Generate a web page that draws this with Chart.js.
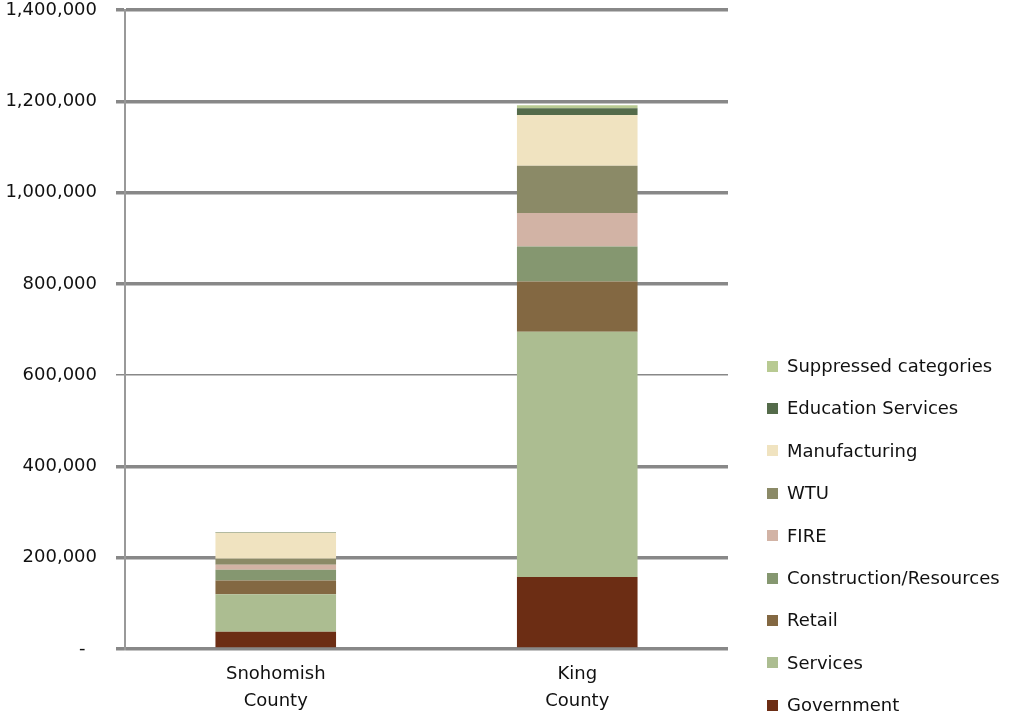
<!DOCTYPE html>
<html>
<head>
<meta charset="utf-8">
<script src="https://cdn.jsdelivr.net/npm/chart.js@4.4.1/dist/chart.umd.min.js"></script>
<style>
    html, body { margin: 0; padding: 0; background: #fff; }
    #wrap { position: relative; width: 1013px; height: 717px; }
    #legend { position: absolute; left: 0; top: 0; font: 18px "DejaVu Sans", sans-serif; color: #111; }
    #legend .box { position: absolute; width: 11px; height: 11px; }
    #legend .txt { position: absolute; white-space: nowrap; line-height: 20px; }
</style>
</head>
<body>
<div id="wrap">
    <canvas id="jobsChart" width="1013" height="717"></canvas>
    <div id="legend"></div>
</div>
<script>
// employment by sector, two counties
const counties = [['Snohomish', 'County'], ['King', 'County']];

const government    = [38000, 158000];
const services      = [82000, 537000];
const retail        = [30000, 110000];
const construction  = [23500, 77000];
const fire          = [11000, 73000];
const wtu           = [13000, 104000];
const manufacturing = [57000, 111000];
const education     = [1200, 15000];
const suppressed    = [600, 6500];

const yTicks = [0, 200000, 400000, 600000, 800000, 1000000, 1200000, 1400000];

const series = [
    { label: 'Government', data: government, color: '#6c2d14' },
    { label: 'Services', data: services, color: '#acbd91' },
    { label: 'Retail', data: retail, color: '#836842' },
    { label: 'Construction/Resources', data: construction, color: '#859770' },
    { label: 'FIRE', data: fire, color: '#d2b3a5' },
    { label: 'WTU', data: wtu, color: '#8b8a67' },
    { label: 'Manufacturing', data: manufacturing, color: '#f0e3c0' },
    { label: 'Education Services', data: education, color: '#546b4a' },
    { label: 'Suppressed categories', data: suppressed, color: '#b8ca92' }
];

const font = { family: '"DejaVu Sans", sans-serif', size: 18 };

const config = {
    type: 'bar',
    data: {
        labels: counties,
        datasets: series.map(s => ({
            label: s.label,
            data: s.data,
            backgroundColor: s.color,
            borderWidth: 0,
            barPercentage: 0.4,
            categoryPercentage: 1.0
        }))
    },
    options: {
        responsive: false,
        animation: false,
        layout: { padding: { top: 10, right: 285, left: 0, bottom: 0 } },
        plugins: {
            legend: { display: false },
            tooltip: { enabled: false }
        },
        scales: {
            x: {
                stacked: true,
                grid: { display: false, drawTicks: false },
                border: { display: false },
                ticks: { font: { ...font, lineHeight: 1.5 }, color: '#111', padding: 12 },
                afterFit: scale => { scale.height = 68; }
            },
            y: {
                stacked: true,
                min: 0,
                max: 1400000,
                afterBuildTicks: scale => { scale.ticks = yTicks.map(v => ({ value: v })); },
                afterFit: scale => {
                    scale.width = 125;
                    scale.paddingTop = 0;
                    scale.paddingBottom = 0;
                },
                grid: {
                    color: '#888',
                    lineWidth: ctx => (ctx.tick && ctx.tick.value === 600000 ? 1.5 : 3.5),
                    tickLength: 9
                },
                border: { display: true, color: '#999', width: 2 },
                ticks: {
                    font: font,
                    color: '#111',
                    padding: 19,
                    callback: v => (v === 0 ? '-  ' : v.toLocaleString('en-US'))
                }
            }
        }
    }
};

const ctx = document.getElementById('jobsChart').getContext('2d');
const jobsChart = new Chart(ctx, config);

// legend on the right, top entry is the last series
const legend = document.getElementById('legend');
series.slice().reverse().forEach((s, i) => {
    const cy = 366 + i * 42.4;
    const box = document.createElement('div');
    box.className = 'box';
    box.style.left = '767px';
    box.style.top = (cy - 5.5) + 'px';
    box.style.background = s.color;
    const txt = document.createElement('div');
    txt.className = 'txt';
    txt.style.left = '787px';
    txt.style.top = (cy - 10) + 'px';
    txt.textContent = s.label;
    legend.appendChild(box);
    legend.appendChild(txt);
});
</script>
</body>
</html>
